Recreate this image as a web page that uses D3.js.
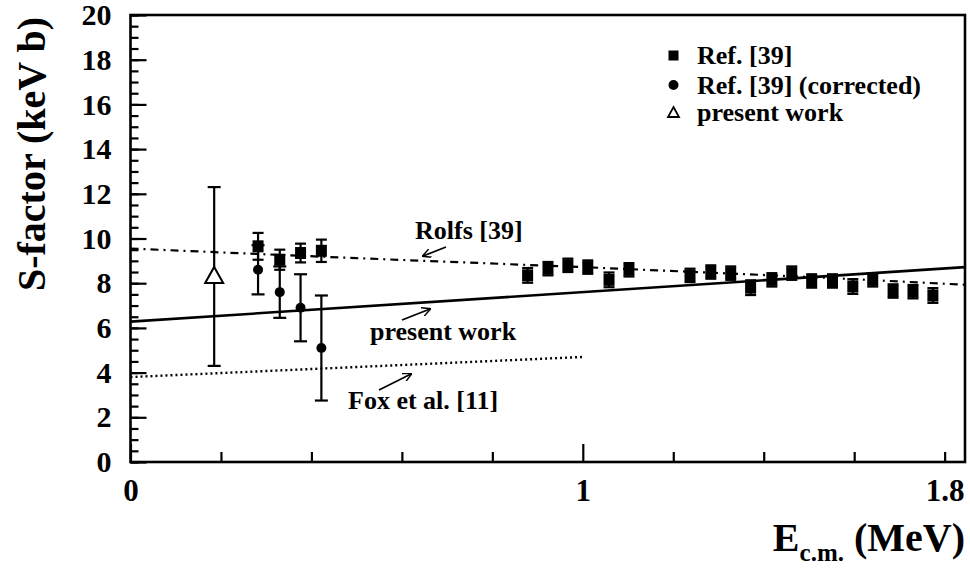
<!DOCTYPE html>
<html>
<head>
<meta charset="utf-8">
<script src="https://cdn.jsdelivr.net/npm/d3@7/dist/d3.min.js"></script>
<style>
  html, body { margin: 0; padding: 0; background: #fff; }
  svg { display: block; }
  text { font-family: "Liberation Serif", "Times New Roman", serif; font-weight: bold; fill: #000; }
</style>
</head>
<body>
<svg id="chart" width="970" height="571"></svg>
<script>
// Ref. [39] S-factor data (MeV, keV b)
const refE   = [0.282, 0.330, 0.376, 0.422,
                0.878, 0.923, 0.967, 1.011, 1.058, 1.102,
                1.237, 1.283, 1.327, 1.371, 1.418, 1.462, 1.506, 1.552, 1.597, 1.641, 1.686, 1.730, 1.774];
const refS   = [9.65, 9.05, 9.35, 9.45,
                8.35, 8.65, 8.80, 8.72, 8.15, 8.60,
                8.35, 8.50, 8.45, 7.80, 8.15, 8.45, 8.10, 8.10, 7.85, 8.15, 7.65, 7.62, 7.45];
const refErr = [0.60, 0.45, 0.42, 0.50,
                0.33, 0.30, 0.30, 0.30, 0.33, 0.30,
                0.30, 0.30, 0.30, 0.33, 0.30, 0.30, 0.30, 0.30, 0.33, 0.30, 0.30, 0.30, 0.33];

// Ref. [39] corrected points
const corrE   = [0.282, 0.330, 0.376, 0.422];
const corrS   = [8.60, 7.60, 6.90, 5.10];
const corrErr = [1.10, 1.15, 1.50, 2.35];

// present work point
const presE   = [0.185];
const presS   = [8.30];
const presErr = [4.00];

// curves
const rolfsE = [0, 0.5, 1.0, 1.5, 1.845];
const rolfsS = [9.55, 9.12, 8.72, 8.28, 7.93];
const fitE   = [0, 1.845];
const fitS   = [6.28, 8.72];
const foxE   = [0, 1.0];
const foxS   = [3.80, 4.70];

// axis ticks
const yMajor = [0, 2, 4, 6, 8, 10, 12, 14, 16, 18, 20];
const yMinor = d3.range(0, 20.01, 0.5);
const xMajor = [0, 1];
const xMinor = [0.2, 0.4, 0.6, 0.8, 1.2, 1.4, 1.6, 1.8];
const xLabels = [0, 1, 1.8];

const svg = d3.select("#chart");
const L = 130.5, R = 965, T = 15, B = 462;
const x = d3.scaleLinear().domain([0, 1.845]).range([L, R]);
const y = d3.scaleLinear().domain([0, 20]).range([B, T]);

// axes (ticks pointing into the frame)
const yAxisMinor = d3.axisLeft(y).tickValues(yMinor).tickSize(-8).tickFormat("");
const yAxisMajor = d3.axisLeft(y).tickValues(yMajor).tickSize(-16).tickPadding(19).tickFormat(d3.format("d"));
const xAxisMinor = d3.axisBottom(x).tickValues(xMinor).tickSize(-10).tickFormat("");
const xAxisMajor = d3.axisBottom(x).tickValues(xMajor).tickSize(-18).tickFormat("");
const xAxisLab   = d3.axisBottom(x).tickValues(xLabels).tickSize(0).tickPadding(17).tickFormat(d => String(d));

function styleAxis(g, fs) {
  g.select(".domain").remove();
  g.selectAll("line").attr("stroke", "#000").attr("stroke-width", 2.2);
  g.selectAll("text").style("font-size", fs + "px").attr("fill", "#000")
    .style("font-family", "'Liberation Serif', serif").style("font-weight", "bold");
}
svg.append("g").attr("transform", `translate(${L},0)`).call(yAxisMinor).call(g => styleAxis(g, 30));
svg.append("g").attr("transform", `translate(${L},0)`).call(yAxisMajor).call(g => styleAxis(g, 30));
svg.append("g").attr("transform", `translate(0,${B})`).call(xAxisMinor).call(g => styleAxis(g, 30));
svg.append("g").attr("transform", `translate(0,${B})`).call(xAxisMajor).call(g => styleAxis(g, 30));
svg.append("g").attr("transform", `translate(0,${B})`).call(xAxisLab).call(g => styleAxis(g, 31));

// frame
svg.append("rect").attr("x", L).attr("y", T).attr("width", R - L).attr("height", B - T)
  .attr("fill", "none").attr("stroke", "#000").attr("stroke-width", 2.6);

// curves
const line = d3.line().x(d => x(d[0])).y(d => y(d[1]));
const plot = svg.append("g");
plot.append("path").datum(d3.zip(rolfsE, rolfsS)).attr("d", line)
  .attr("fill", "none").attr("stroke", "#000").attr("stroke-width", 2.2).attr("stroke-dasharray", "8,5,2,5");
plot.append("path").datum(d3.zip(fitE, fitS)).attr("d", line)
  .attr("fill", "none").attr("stroke", "#000").attr("stroke-width", 2.6);
plot.append("path").datum(d3.zip(foxE, foxS)).attr("d", line)
  .attr("fill", "none").attr("stroke", "#000").attr("stroke-width", 2.4).attr("stroke-dasharray", "2,3");

// error bars
function errorBars(E, S, Err, cap) {
  const g = plot.append("g").attr("stroke", "#000").attr("stroke-width", 2.2);
  E.forEach((e, i) => {
    const cx = x(e), y0 = y(S[i] - Err[i]), y1 = y(S[i] + Err[i]);
    g.append("line").attr("x1", cx).attr("x2", cx).attr("y1", y0).attr("y2", y1);
    g.append("line").attr("x1", cx - cap).attr("x2", cx + cap).attr("y1", y0).attr("y2", y0);
    g.append("line").attr("x1", cx - cap).attr("x2", cx + cap).attr("y1", y1).attr("y2", y1);
  });
}
errorBars(refE, refS, refErr, 5.5);
errorBars(corrE, corrS, corrErr, 6.5);
errorBars(presE, presS, presErr, 6.5);

// markers
plot.append("g").selectAll("rect").data(d3.zip(refE, refS)).join("rect")
  .attr("x", d => x(d[0]) - 5.5).attr("y", d => y(d[1]) - 6)
  .attr("width", 11).attr("height", 12).attr("fill", "#000");
plot.append("g").selectAll("circle").data(d3.zip(corrE, corrS)).join("circle")
  .attr("cx", d => x(d[0])).attr("cy", d => y(d[1])).attr("r", 5).attr("fill", "#000");
const tri = (cx, cy, w, h) => `M${cx},${cy - h * 0.6}L${cx + w / 2},${cy + h * 0.4}L${cx - w / 2},${cy + h * 0.4}Z`;
plot.append("g").selectAll("path").data(d3.zip(presE, presS)).join("path")
  .attr("d", d => tri(x(d[0]), y(d[1]), 18, 16))
  .attr("fill", "#fff").attr("stroke", "#000").attr("stroke-width", 2);

// annotations with arrows
svg.append("defs").append("marker").attr("id", "arr").attr("viewBox", "0 0 10 10")
  .attr("refX", 9).attr("refY", 5).attr("markerWidth", 9).attr("markerHeight", 9)
  .attr("markerUnits", "userSpaceOnUse").attr("orient", "auto")
  .append("path").attr("d", "M0,0L10,5L0,10").attr("fill", "none").attr("stroke", "#000").attr("stroke-width", 1.6);
function arrow(x1, y1, x2, y2) {
  svg.append("line").attr("x1", x1).attr("y1", y1).attr("x2", x2).attr("y2", y2)
    .attr("stroke", "#000").attr("stroke-width", 1.8).attr("marker-end", "url(#arr)");
}
svg.append("text").attr("x", 415).attr("y", 239).style("font-size", "26px").text("Rolfs [39]");
arrow(446, 247, 423, 256);
svg.append("text").attr("x", 370).attr("y", 340).style("font-size", "26px").text("present work");
arrow(402, 320, 430, 309);
svg.append("text").attr("x", 348).attr("y", 409).style("font-size", "26px").text("Fox et al. [11]");
arrow(379, 390, 411, 374);

// legend
const leg = svg.append("g");
leg.append("rect").attr("x", 668.5).attr("y", 50.5).attr("width", 10).attr("height", 10).attr("fill", "#000");
leg.append("circle").attr("cx", 673.5).attr("cy", 85).attr("r", 5).attr("fill", "#000");
leg.append("path").attr("d", tri(673.5, 113, 11, 10)).attr("fill", "#fff").attr("stroke", "#000").attr("stroke-width", 1.8);
const legText = ["Ref. [39]", "Ref. [39] (corrected)", "present work"];
const legY = [64, 94, 121];
leg.selectAll("text").data(legText).join("text")
  .attr("x", 697).attr("y", (d, i) => legY[i]).style("font-size", "26px").text(d => d);

// axis titles
svg.append("text").attr("transform", "translate(45,17) rotate(-90)")
  .attr("text-anchor", "end").style("font-size", "40px").text("S-factor (keV b)");
const xt = svg.append("text").attr("x", 965).attr("y", 551).attr("text-anchor", "end").style("font-size", "40px");
xt.append("tspan").text("E");
xt.append("tspan").attr("dy", 10).style("font-size", "25px").text("c.m.");
xt.append("tspan").attr("dy", -10).text(" (MeV)");
</script>
</body>
</html>
